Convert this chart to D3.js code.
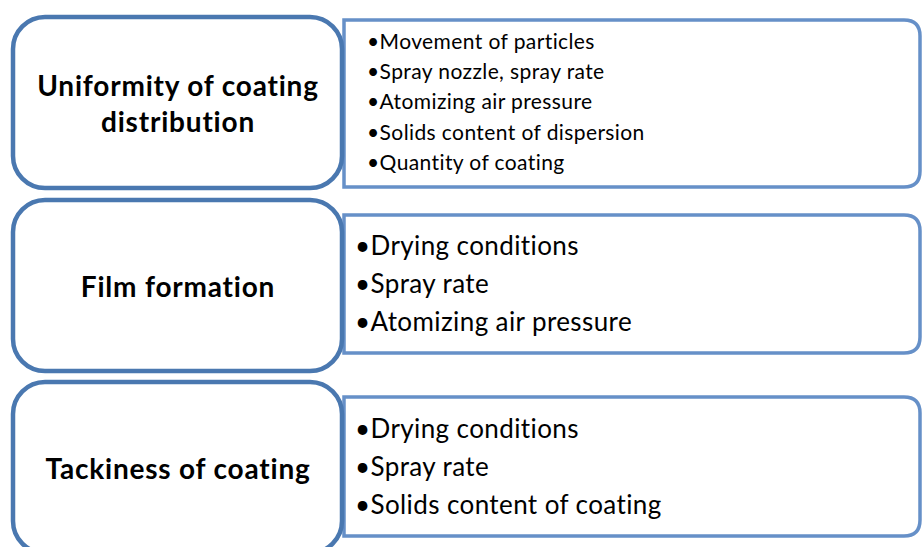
<!DOCTYPE html>
<html>
<head>
<meta charset="utf-8">
<script src="https://cdn.jsdelivr.net/npm/d3@7"></script>
<style>
  body { margin: 0; background: #fff; }
  text { font-family: Lato, "Open Sans", sans-serif; fill: #000; font-variant-ligatures: none; }
</style>
</head>
<body>
<svg id="chart" width="922" height="547"></svg>
<script>
// diagram content
var headings = [
  ["Uniformity of coating", "distribution"],
  ["Film formation"],
  ["Tackiness of coating"]
];
var factors = [
  ["Movement of particles", "Spray nozzle, spray rate", "Atomizing air pressure",
   "Solids content of dispersion", "Quantity of coating"],
  ["Drying conditions", "Spray rate", "Atomizing air pressure"],
  ["Drying conditions", "Spray rate", "Solids content of coating"]
];

var svg = d3.select("#chart");
var rowTop = [15, 198, 380];
var rowH = 175;
var rows = headings.map(function(h, i) { return {i: i, head: h, items: factors[i]}; });

// right hand boxes: square left edge, rounded right corners
function rightPath(x0, y0, x1, y1, r) {
  return "M" + x0 + "," + y0 + "H" + (x1 - r) + "Q" + x1 + "," + y0 + " " + x1 + "," + (y0 + r) +
    "V" + (y1 - r) + "Q" + x1 + "," + y1 + " " + (x1 - r) + "," + y1 + "H" + x0 + "Z";
}

var rightBox = [[20, 187], [215, 353], [397, 536]];

var g = svg.selectAll("g.row").data(rows).enter().append("g").attr("class", "row");

g.append("path")
  .attr("d", function(d) { return rightPath(344, rightBox[d.i][0], 920, rightBox[d.i][1], 16); })
  .attr("fill", "#fff")
  .attr("stroke", "#6690c8")
  .attr("stroke-width", 3.5);

g.append("rect")
  .attr("x", 13).attr("y", function(d) { return rowTop[d.i] + 2; })
  .attr("width", 329).attr("height", rowH - 4)
  .attr("rx", 32).attr("ry", 32)
  .attr("fill", "#fff")
  .attr("stroke", "#4a78b0")
  .attr("stroke-width", 4.5);

// headings
g.each(function(d) {
  var sel = d3.select(this);
  var n = d.head.length;
  var cy = (rowTop[d.i] + rowH / 2) + 2;
  var lh = 36;
  d.head.forEach(function(t, k) {
    sel.append("text")
      .attr("x", 178)
      .attr("y", cy + (k - (n - 1) / 2) * lh + 9)
      .attr("text-anchor", "middle")
      .attr("font-weight", "bold")
      .attr("font-size", 28)
      .attr("letter-spacing", 0.8)
      .text(t);
  });
});

// bullet lists
var listFmt = [
  {x: 367, y0: 49, step: 30.2, size: 21},
  {x: 355, y0: 255, step: 37.8, size: 26},
  {x: 355, y0: 438, step: 37.8, size: 26}
];
g.each(function(d) {
  var f = listFmt[d.i];
  var t = d3.select(this).selectAll("text.item").data(d.items).enter()
    .append("text")
    .attr("class", "item")
    .attr("x", f.x)
    .attr("y", function(t, k) { return f.y0 + k * f.step; })
    .attr("font-size", f.size)
    .attr("letter-spacing", 0.4);
  t.append("tspan").text("\u2022");
  t.append("tspan").text(function(s) { return s; });
});
</script>
</body>
</html>
